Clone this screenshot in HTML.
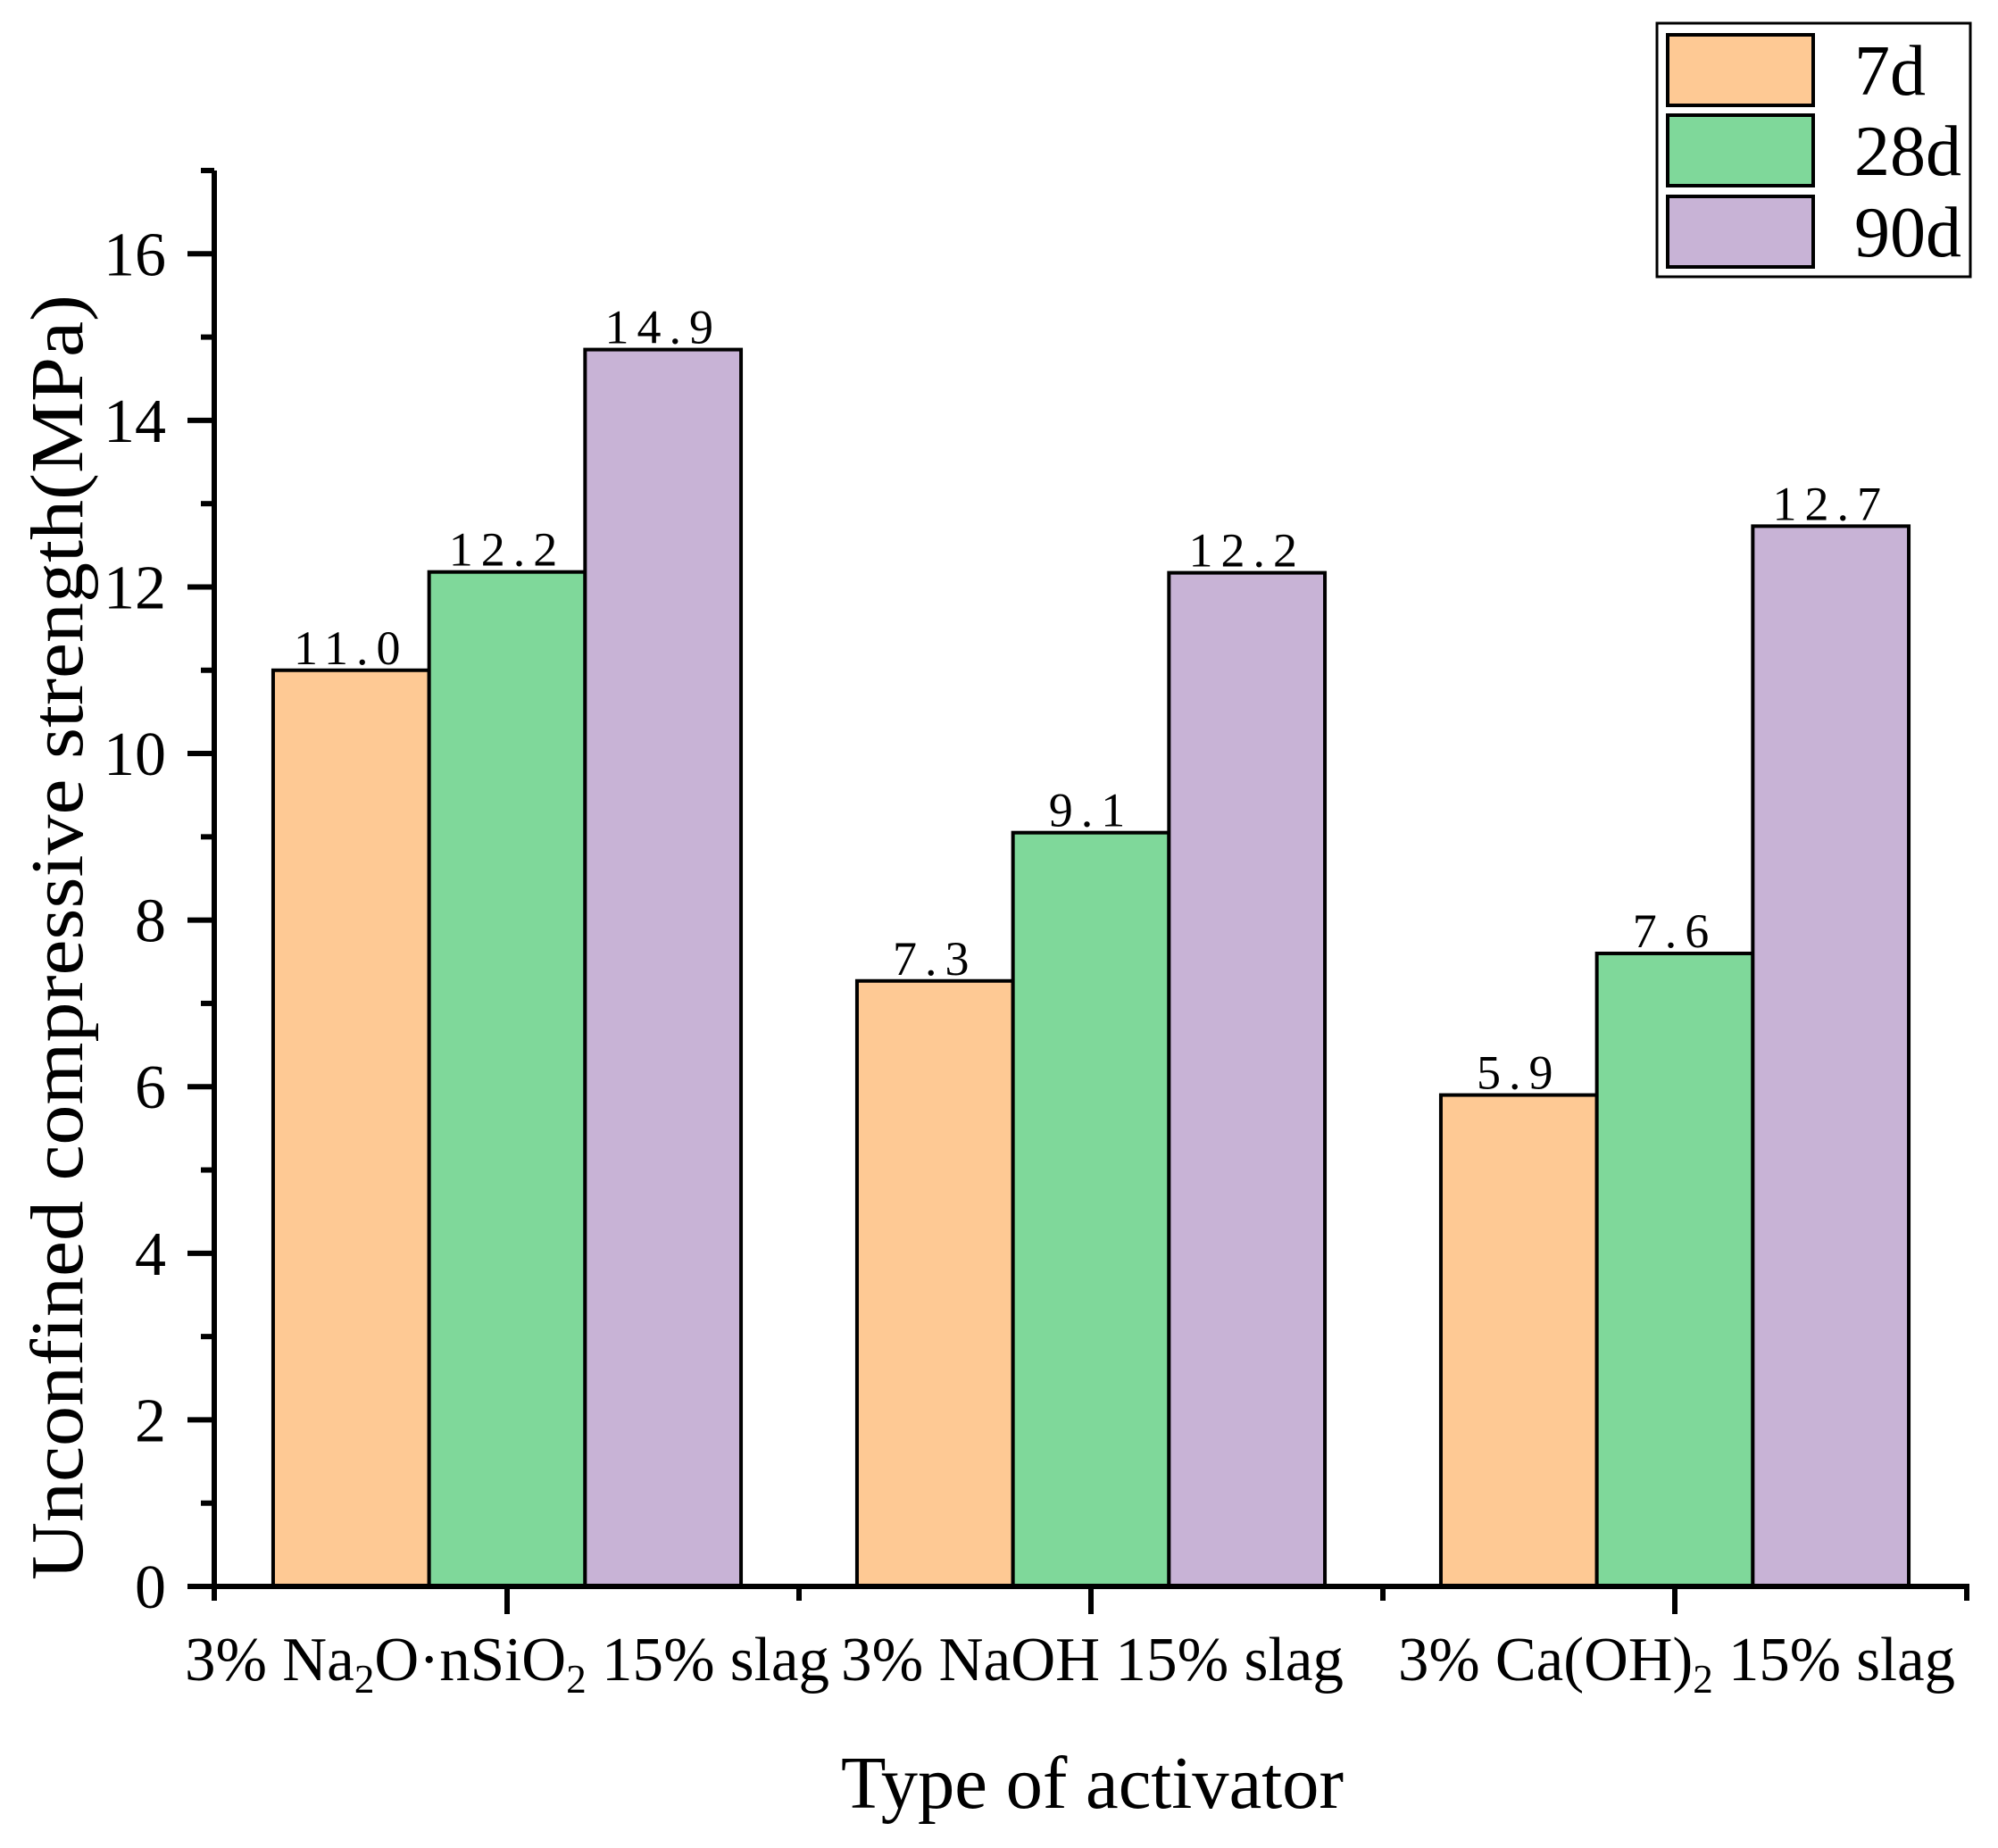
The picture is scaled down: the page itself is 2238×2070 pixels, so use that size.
<!DOCTYPE html>
<html><head><meta charset="utf-8"><style>
html,body{margin:0;padding:0;background:#fff;width:2238px;height:2070px;overflow:hidden;position:relative}
svg{display:block}
text{font-family:"Liberation Serif",serif;fill:#000}
</style></head><body>
<svg id="chart" width="2238" height="2070" viewBox="0 0 2238 2070" xmlns="http://www.w3.org/2000/svg" style="position:absolute;left:0;top:0"></svg>
<script>
const categories = ["3% Na2O·nSiO2 15% slag","3% NaOH 15% slag","3% Ca(OH)2 15% slag"];
const seriesNames = ["7d","28d","90d"];
const s7 = [11.0, 7.27, 5.9];
const s28 = [12.18, 9.05, 7.6];
const s90 = [14.85, 12.17, 12.73];
const valueLabels7 = ["11.0","7.3","5.9"];
const valueLabels28 = ["12.2","9.1","7.6"];
const valueLabels90 = ["14.9","12.2","12.7"];
const yTicks = [0,2,4,6,8,10,12,14,16];

const NS="http://www.w3.org/2000/svg";
const svg=document.getElementById('chart');
const colors=["#FEC994","#7FD89A","#C8B3D6"];
const X0=241, X1=2203, Y0=1777, YTOP=191, YMAX=17;
const catW=(X1-X0)/categories.length;
function yScale(v){return Y0-(v/YMAX)*(Y0-YTOP);}
function xCenter(i){return X0+catW*(i+0.5);}
const barW=174.7;
function mk(tag,attrs,parent){const e=document.createElementNS(NS,tag);for(const k in attrs)e.setAttribute(k,attrs[k]);(parent||svg).appendChild(e);return e;}

const all=[s7,s28,s90], labs=[valueLabels7,valueLabels28,valueLabels90];
for(let s=0;s<3;s++){
  for(let i=0;i<categories.length;i++){
    const x=xCenter(i)+(s-1.5)*barW;
    const y=yScale(all[s][i]);
    const r=mk('rect',{x:x,y:y,width:barW,height:Y0-y,fill:colors[s],stroke:'#000','stroke-width':4});
    
    
    const t=mk('text',{x:x+barW/2,y:y-7,'text-anchor':'middle','font-size':54,'letter-spacing':'9'});
    t.textContent=labs[s][i];
    
    
  }
}
const ya=mk('line',{x1:240,y1:YTOP,x2:240,y2:Y0+3,stroke:'#000','stroke-width':6});


const xa=mk('line',{x1:226,y1:Y0,x2:2206,y2:Y0,stroke:'#000','stroke-width':6});


for(let v=0;v<=YMAX;v++){
  const y=yScale(v);
  const major=yTicks.indexOf(v)>=0;
  const tk=mk('line',{x1:major?210:225,y1:y,x2:240,y2:y,stroke:'#000','stroke-width':6});
  
  
}
for(const v of yTicks){
  const t=mk('text',{x:186,y:yScale(v)+24,'text-anchor':'end','font-size':70});
  t.textContent=v;
  
  
}
for(let i=0;i<=categories.length;i++){
  const x=X0+catW*i-(i==0?1:0);
  const tk=mk('line',{x1:x,y1:Y0,x2:x,y2:1793,stroke:'#000','stroke-width':6});
  
  
}
for(let i=0;i<categories.length;i++){
  const tk=mk('line',{x1:xCenter(i),y1:Y0,x2:xCenter(i),y2:1808,stroke:'#000','stroke-width':6});
  
  
}
</script>
<svg style="position:absolute;left:0;top:0" width="2238" height="2070">
  <g font-family="Liberation Serif, serif" font-size="70">
    <text x="207" y="1882" textLength="722" lengthAdjust="spacingAndGlyphs">3% Na<tspan font-size="46" dy="14">2</tspan><tspan dy="-14">O·nSiO</tspan><tspan font-size="46" dy="14">2</tspan><tspan dy="-14">  15% slag</tspan></text>
    <text x="942" y="1882" textLength="563" lengthAdjust="spacingAndGlyphs">3% NaOH  15% slag</text>
    <text x="1566" y="1882" textLength="624" lengthAdjust="spacingAndGlyphs">3% Ca(OH)<tspan font-size="46" dy="14">2</tspan><tspan dy="-14">  15% slag</tspan></text>
  </g>
  <text x="942" y="2025" font-family="Liberation Serif, serif" font-size="84" textLength="563" lengthAdjust="spacingAndGlyphs">Type of activator</text>
  <text transform="translate(92,1050) rotate(-90)" text-anchor="middle" font-family="Liberation Serif, serif" font-size="84" textLength="1440" lengthAdjust="spacingAndGlyphs">Unconfined compressive strength(MPa)</text>
  <g>
    <rect x="1856" y="26" width="351" height="284" fill="none" stroke="#000" stroke-width="3"/>
    <rect x="1868" y="39" width="163" height="79" fill="#FEC994" stroke="#000" stroke-width="4"/>
    <rect x="1868" y="129" width="163" height="79" fill="#7FD89A" stroke="#000" stroke-width="4"/>
    <rect x="1868" y="220" width="163" height="79" fill="#C8B3D6" stroke="#000" stroke-width="4"/>
    <text x="2077" y="106" font-family="Liberation Serif, serif" font-size="80">7d</text>
    <text x="2077" y="196" font-family="Liberation Serif, serif" font-size="80">28d</text>
    <text x="2077" y="287" font-family="Liberation Serif, serif" font-size="80">90d</text>
  </g>
</svg>
</body></html>
